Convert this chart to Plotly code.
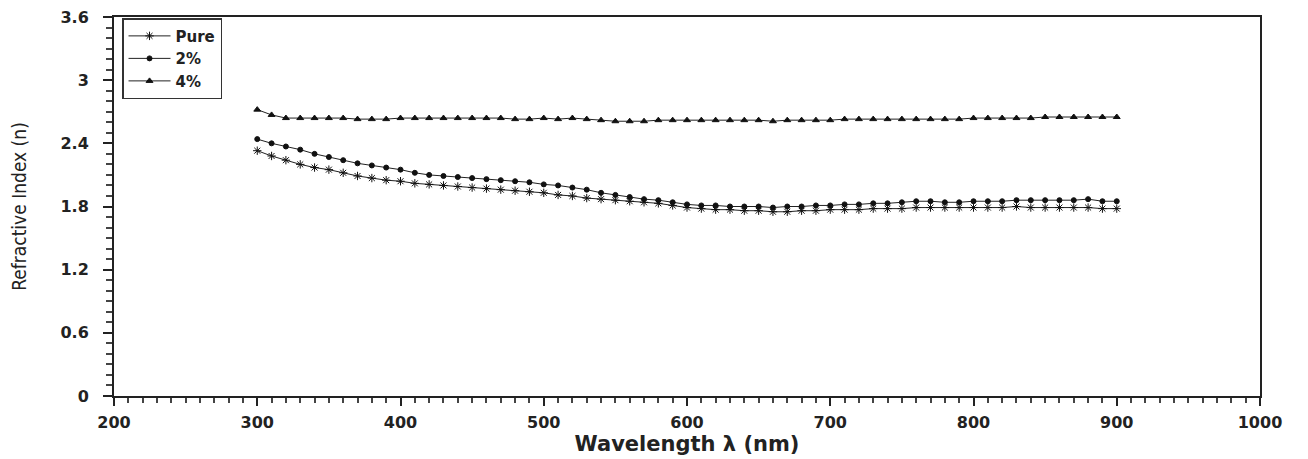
import plotly.graph_objects as go

wavelength = list(range(300, 901, 10))

pure = [2.33, 2.28, 2.24, 2.20, 2.17, 2.15, 2.12, 2.09, 2.07, 2.05,
        2.04, 2.02, 2.01, 2.00, 1.99, 1.98, 1.97, 1.96, 1.95, 1.94,
        1.93, 1.91, 1.90, 1.88, 1.87, 1.86, 1.85, 1.84, 1.83, 1.81,
        1.79, 1.78, 1.77, 1.77, 1.76, 1.76, 1.75, 1.75, 1.76, 1.76,
        1.77, 1.77, 1.77, 1.78, 1.78, 1.78, 1.79, 1.79, 1.79, 1.79,
        1.79, 1.79, 1.79, 1.80, 1.79, 1.79, 1.79, 1.79, 1.79, 1.78,
        1.78]

two_pct = [2.44, 2.40, 2.37, 2.34, 2.30, 2.27, 2.24, 2.21, 2.19, 2.17,
           2.15, 2.12, 2.10, 2.09, 2.08, 2.07, 2.06, 2.05, 2.04, 2.03,
           2.01, 2.00, 1.98, 1.96, 1.93, 1.91, 1.89, 1.87, 1.86, 1.84,
           1.82, 1.81, 1.81, 1.80, 1.80, 1.80, 1.79, 1.80, 1.80, 1.81,
           1.81, 1.82, 1.82, 1.83, 1.83, 1.84, 1.85, 1.85, 1.84, 1.84,
           1.85, 1.85, 1.85, 1.86, 1.86, 1.86, 1.86, 1.86, 1.87, 1.85,
           1.85]

four_pct = [2.72, 2.67, 2.64, 2.64, 2.64, 2.64, 2.64, 2.63, 2.63, 2.63,
            2.64, 2.64, 2.64, 2.64, 2.64, 2.64, 2.64, 2.64, 2.63, 2.63,
            2.64, 2.63, 2.64, 2.63, 2.62, 2.61, 2.61, 2.61, 2.62, 2.62,
            2.62, 2.62, 2.62, 2.62, 2.62, 2.62, 2.61, 2.62, 2.62, 2.62,
            2.62, 2.63, 2.63, 2.63, 2.63, 2.63, 2.63, 2.63, 2.63, 2.63,
            2.64, 2.64, 2.64, 2.64, 2.64, 2.65, 2.65, 2.65, 2.65, 2.65,
            2.65]

series = [
    ("Pure", pure, "asterisk-open", 7),
    ("2%", two_pct, "circle", 5),
    ("4%", four_pct, "triangle-up", 6),
]

fig = go.Figure()
for name, vals, sym, size in series:
    fig.add_trace(go.Scatter(
        x=wavelength, y=vals, name=name, mode="lines+markers",
        line=dict(color="#222", width=1),
        marker=dict(symbol=sym, size=size, color="#111",
                    line=dict(color="#111", width=1)),
    ))

tick_font = dict(family="DejaVu Sans", size=16, color="#222", weight="bold")

# page body has an 8px default margin, so the figure is sized to fit
fig.update_layout(
    width=1300, height=451,
    margin=dict(l=106, r=48, t=9, b=63),
    paper_bgcolor="white", plot_bgcolor="white",
    showlegend=True,
    legend=dict(
        x=0.007, y=0.997, xanchor="left", yanchor="top",
        bordercolor="#333", borderwidth=1.5, bgcolor="white",
        font=dict(family="DejaVu Sans", size=15, color="#222", weight="bold"),
        tracegroupgap=0, itemwidth=42,
    ),
    xaxis=dict(
        range=[200, 1000], dtick=100, tick0=200, automargin=False,
        showline=True, linecolor="#222", linewidth=2, mirror=True,
        ticks="outside", ticklen=8, tickwidth=1.5, tickcolor="#222",
        minor=dict(dtick=10, ticks="outside", ticklen=5, tickcolor="#444"),
        showgrid=False, zeroline=False,
        tickfont=tick_font, ticklabelstandoff=3, ticklabeloverflow="allow",
        title=dict(text="Wavelength λ (nm)", standoff=3,
                   font=dict(family="DejaVu Sans", size=21, color="#222", weight="bold")),
    ),
    yaxis=dict(
        range=[0, 3.6], dtick=0.6, tick0=0, automargin=False,
        showline=True, linecolor="#222", linewidth=2, mirror=True,
        ticks="outside", ticklen=9, tickwidth=1.5, tickcolor="#222",
        minor=dict(dtick=0.1, ticks="outside", ticklen=6, tickcolor="#444"),
        showgrid=False, zeroline=False,
        tickfont=tick_font, ticklabelstandoff=11, ticklabeloverflow="allow",
        title=dict(text="Refractive Index (n)", standoff=32,
                   font=dict(family="Liberation Sans Narrow, DejaVu Sans Condensed, Arial Narrow", size=19, color="#222")),
    ),
)

fig.write_html("out.html")
